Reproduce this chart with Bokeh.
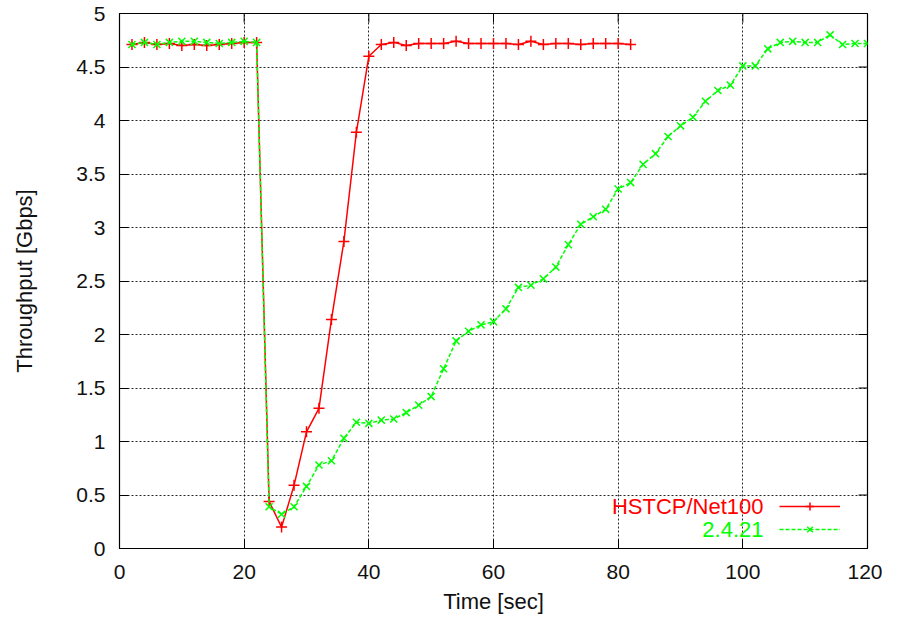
import math
from bokeh.plotting import figure
from bokeh.models import Range1d, FixedTicker, Legend, LegendItem, Label
from bokeh.embed import file_html
from bokeh.resources import INLINE

# ---- data ----
series_names = ["HSTCP/Net100", "2.4.21"]

time_hstcp = [2, 4, 6, 8, 10, 12, 14, 16, 18, 20, 22,
              24, 26, 28, 30, 32, 34, 36, 38, 40,
              42, 44, 46, 48, 50, 52, 54, 56, 58, 60, 62, 64, 66, 68, 70,
              72, 74, 76, 78, 80, 82]
thr_hstcp = [4.71, 4.73, 4.71, 4.72, 4.70, 4.71, 4.70, 4.71, 4.72, 4.73, 4.73,
             0.44, 0.20, 0.59, 1.09, 1.31, 2.14, 2.87, 3.89, 4.60,
             4.71, 4.73, 4.70, 4.72, 4.72, 4.72, 4.74, 4.72, 4.72, 4.72, 4.72,
             4.71, 4.74, 4.71, 4.72, 4.72, 4.71, 4.72, 4.72, 4.72, 4.71]

time_2421 = [2, 4, 6, 8, 10, 12, 14, 16, 18, 20, 22,
             24, 26, 28, 30, 32, 34, 36, 38, 40, 42, 44, 46, 48,
             50, 52, 54, 56, 58, 60, 62, 64, 66, 68, 70,
             72, 74, 76, 78, 80, 82, 84, 86, 88, 90, 92, 94, 96, 98,
             100, 102, 104, 106, 108, 110, 112, 114, 116, 118, 120]
thr_2421 = [4.71, 4.73, 4.71, 4.73, 4.74, 4.74, 4.73, 4.72, 4.73, 4.74, 4.73,
            0.39, 0.32, 0.39, 0.58, 0.78, 0.82, 1.03, 1.18, 1.17, 1.20, 1.21, 1.27, 1.34,
            1.42, 1.68, 1.94, 2.03, 2.09, 2.12, 2.24, 2.44, 2.46, 2.52, 2.63,
            2.84, 3.03, 3.10, 3.17, 3.36, 3.42, 3.59, 3.69, 3.85, 3.95, 4.03, 4.18, 4.28, 4.33,
            4.51, 4.51, 4.67, 4.73, 4.74, 4.73, 4.73, 4.80, 4.71, 4.72, 4.72]

x_ticks = [0, 20, 40, 60, 80, 100, 120]
y_ticks = [0, 0.5, 1, 1.5, 2, 2.5, 3, 3.5, 4, 4.5, 5]
y_tick_labels = ["0", "0.5", "1", "1.5", "2", "2.5", "3", "3.5", "4", "4.5", "5"]

x_label = "Time [sec]"
y_label = "Throughput [Gbps]"

# ---- styling ----
FONT = "Liberation Sans"
RED = "#ff0000"
GREEN = "#00ff00"
TICK_LEN = 9

p = figure(width=882, height=616, output_backend="svg", toolbar_location=None,
           x_range=Range1d(0, 120), y_range=Range1d(0, 5),
           min_border_left=119, min_border_right=15,
           min_border_top=13, min_border_bottom=67)

p.background_fill_color = "white"
p.border_fill_color = "white"
p.outline_line_color = "black"
p.outline_line_width = 1.2
p.outline_line_alpha = 1

xt = FixedTicker(ticks=x_ticks)
yt = FixedTicker(ticks=y_ticks)

for ax in p.xaxis:
    ax.ticker = xt
for ax in p.yaxis:
    ax.ticker = yt
    ax.major_label_overrides = {t: s for t, s in zip(y_ticks, y_tick_labels)}

for ax in list(p.xaxis) + list(p.yaxis):
    ax.major_tick_in = TICK_LEN
    ax.major_tick_out = 0
    ax.minor_tick_line_color = None
    ax.axis_line_color = "black"
    ax.major_tick_line_color = "black"
    ax.major_label_text_font = FONT
    ax.major_label_text_font_size = "21px"
    ax.major_label_text_color = "#111111"
    ax.axis_label_text_font = FONT
    ax.axis_label_text_font_size = "22px"
    ax.axis_label_text_font_style = "normal"
    ax.axis_label_text_color = "#111111"

p.xaxis.axis_label = x_label
p.yaxis.axis_label = y_label
p.xaxis.major_label_standoff = 16
p.xaxis.axis_label_standoff = 7
p.yaxis.major_label_standoff = 14
p.yaxis.axis_label_standoff = 36

p.xgrid.ticker = xt
p.ygrid.ticker = yt
for g in (p.xgrid, p.ygrid):
    g.grid_line_color = "black"
    g.grid_line_dash = "2 2"
    g.grid_line_width = 1
    g.grid_line_alpha = 0.85

# mirror ticks on the top and right frame edges (gnuplot style)
p.ray(x=x_ticks, y=[p.y_range.end] * len(x_ticks), length=TICK_LEN,
      length_units="screen", angle=-math.pi / 2, line_color="black", line_width=1)
p.ray(x=[p.x_range.end] * len(y_ticks), y=y_ticks, length=TICK_LEN,
      length_units="screen", angle=math.pi, line_color="black", line_width=1)

# ---- series ----
r_line = p.line(time_hstcp, thr_hstcp, line_color=RED, line_width=1.5)
r_pts = p.scatter(time_hstcp, thr_hstcp, marker="cross", size=11,
                  line_color=RED, line_width=1.5)
g_line = p.line(time_2421, thr_2421, line_color=GREEN, line_width=1.5, line_dash="4 2")
g_pts = p.scatter(time_2421, thr_2421, marker="x", size=10,
                  line_color=GREEN, line_width=1.5)

# ---- legend: text on the left, line sample on the right ----
legend = Legend(items=[LegendItem(label=" ", renderers=[r_line, r_pts]),
                       LegendItem(label=" ", renderers=[g_line, g_pts])],
                location=(660, 9), glyph_width=61, glyph_height=20,
                label_width=0, label_height=20, label_standoff=0,
                padding=0, spacing=3, margin=0,
                border_line_color=None, background_fill_alpha=0,
                label_text_font_size="1px")
p.add_layout(legend, "center")

p.add_layout(Label(x=644, y=42, x_units="screen", y_units="screen",
                   text=series_names[0], text_align="right", text_baseline="middle",
                   text_color=RED, text_font=FONT, text_font_size="22px"))
p.add_layout(Label(x=644, y=19, x_units="screen", y_units="screen",
                   text=series_names[1], text_align="right", text_baseline="middle",
                   text_color=GREEN, text_font=FONT, text_font_size="22px"))

open("out.html", "w").write(file_html(p, INLINE))
